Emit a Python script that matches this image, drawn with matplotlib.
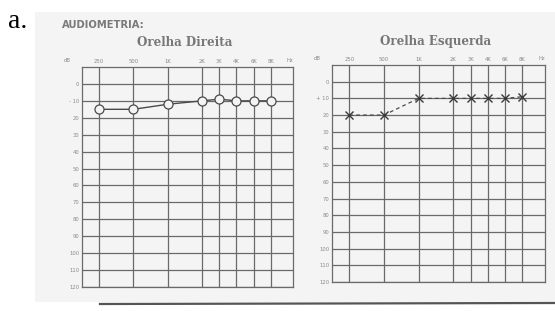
import matplotlib
matplotlib.use("Agg")
import matplotlib.pyplot as plt
from matplotlib.patches import Rectangle
from matplotlib.lines import Line2D

# ---- data ----
freq_labels = ["250", "500", "1K", "2K", "3K", "4K", "6K", "8K"]
freq_pos = [1, 3, 5, 7, 8, 9, 10, 11]
db_ticks = [0, 10, 20, 30, 40, 50, 60, 70, 80, 90, 100, 110, 120]
db_labels_right_ear = ["0", "- 10", "20", "30", "40", "50", "60", "70", "80", "90", "100", "110", "120"]
db_labels_left_ear = ["0", "+ 10", "20", "30", "40", "50", "60", "70", "80", "90", "100", "110", "120"]
right_ear_db = [15, 15, 12, 10, 9, 10, 10, 10]   # Orelha Direita (circles)
left_ear_db = [20, 20, 10, 10, 10, 10, 10, 9]    # Orelha Esquerda (crosses)

W, H = 555, 311
fig = plt.figure(figsize=(W / 100, H / 100), dpi=100)
fig.patch.set_facecolor("white")

def fx(px):
    return px / W

def fy(py):
    return 1 - py / H

# paper background
paper = Rectangle((fx(35), fy(302)), fx(555) - fx(35), fy(12) - fy(302),
                  transform=fig.transFigure, facecolor="#f4f4f4",
                  edgecolor="none", zorder=-10)
fig.patches.append(paper)
fig.lines.append(Line2D([fx(100), fx(555)], [fy(304), fy(303)], transform=fig.transFigure,
                        color="#555555", lw=1.6, zorder=-9))

fig.text(fx(8), fy(21), "a.", fontsize=20, family="Liberation Serif", color="black",
         va="center", ha="left")
fig.text(fx(62), fy(25), "AUDIOMETRIA:", fontsize=7.2, fontweight="bold",
         family="DejaVu Sans", color="#7a7a7a", va="center", ha="left")

grid_col = "#6a6a6a"
lab_col = "#8a8a8a"

def make_ax(box, title, title_x, title_y, ylabels):
    l, t, r, b = box
    ax = fig.add_axes([fx(l), fy(b), fx(r) - fx(l), fy(t) - fy(b)])
    ax.set_zorder(2)
    ax.set_facecolor("none")
    ax.set_xlim(0, 12.3)
    ax.set_ylim(120, -10)
    ax.xaxis.tick_top()
    ax.set_xticks(freq_pos)
    ax.set_xticklabels(freq_labels, fontsize=3.8, color=lab_col)
    ax.set_yticks(db_ticks)
    ax.set_yticklabels(ylabels, fontsize=3.8, color=lab_col)
    ax.tick_params(length=0, pad=2)
    ax.grid(True, color=grid_col, lw=0.9)
    ax.set_axisbelow(True)
    for s in ax.spines.values():
        s.set_color(grid_col)
        s.set_linewidth(0.9)
    ax.text(-0.07, 1.02, "dB", transform=ax.transAxes, fontsize=3.8, color=lab_col,
            ha="center", va="bottom")
    ax.text(0.985, 1.02, "Hz", transform=ax.transAxes, fontsize=3.8, color=lab_col,
            ha="center", va="bottom")
    fig.text(fx(title_x), fy(title_y), title, fontsize=8.6, fontweight="bold",
             family="DejaVu Serif", color="#777777", ha="center", va="center")
    return ax

ax1 = make_ax((82, 67, 293, 287), "Orelha Direita", 185, 43, db_labels_right_ear)
ax1.plot(freq_pos, right_ear_db, color="#4a4a4a", lw=1.0, marker="o", ms=6.5,
         mfc="#f4f4f4", mec="#4a4a4a", mew=0.9, zorder=5)

ax2 = make_ax((332, 65, 545, 282), "Orelha Esquerda", 436, 42, db_labels_left_ear)
ax2.plot(freq_pos, left_ear_db, color="#4a4a4a", lw=0.9, ls=(0, (3, 2.5)),
         marker="x", ms=6, mew=1.0, mec="#3a3a3a", zorder=5)

fig.savefig("out.png", dpi=100, facecolor="white")
